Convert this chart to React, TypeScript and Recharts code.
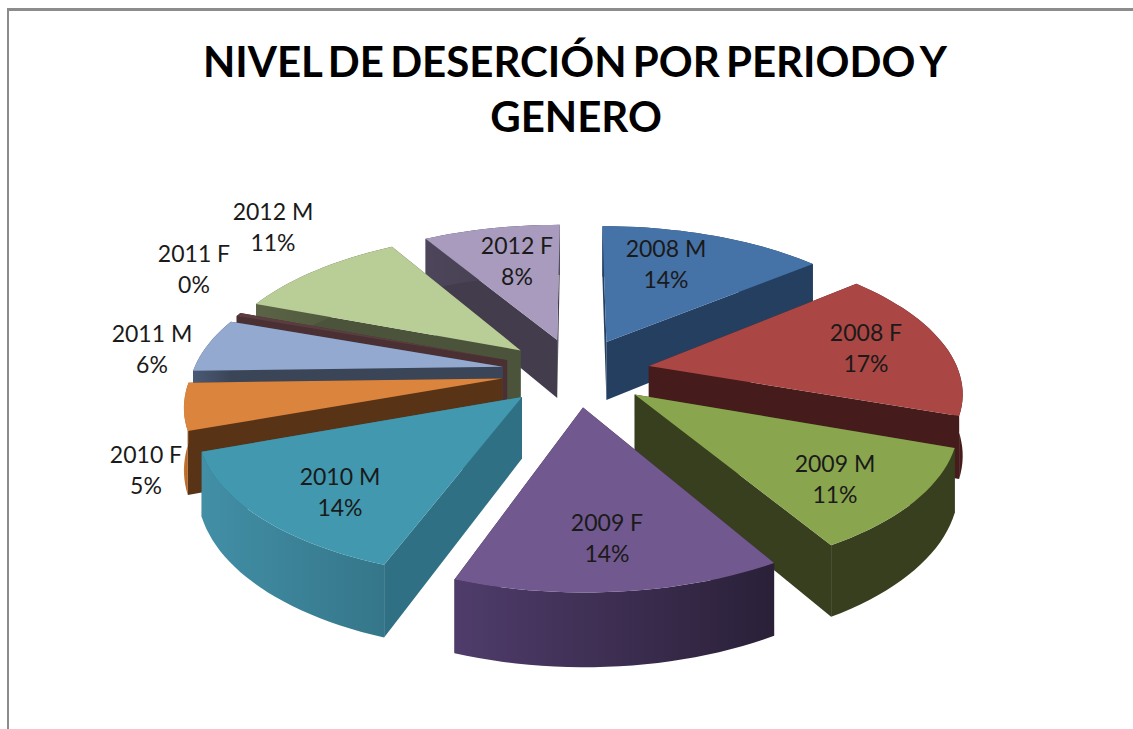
import { PieChart, Pie } from 'recharts'

const categories = ['2008 M', '2008 F', '2009 M', '2009 F', '2010 M', '2010 F', '2011 M', '2011 F', '2012 M', '2012 F']
// 2011 F is a sliver in the picture that still rounds to 0%
const values = [13.9, 16.55, 11.1, 13.95, 13.9, 5.1, 5.9, 0.4, 10.7, 8.45]

const topColors = ['#4572a7', '#aa4643', '#89a54e', '#71588f', '#4198af', '#db843d', '#93a9cf', '#5a3d40', '#b9cd96', '#a99bbd']
const faceColors = ['#243f60', '#451b1b', '#373f1e', '#2d2340', '#2f7084', '#593316', '#3b4558', '#4a2f33', '#4b533a', '#423c4d']
const rimLeft = ['#243f60', '#5a2422', '#373f1e', '#4f3c6b', '#428fa6', '#c9772f', '#4a5a75', '#4a2f33', '#5a6345', '#4d465a']
const rimRight = ['#243f60', '#451b1b', '#373f1e', '#2a2038', '#35768a', '#a85f25', '#3b4558', '#4a2f33', '#4b533a', '#423c4d']

// back slices first, front slices last
const drawOrder = [0, 1, 2, 9, 8, 7, 6, 5, 4, 3]

const labelX = [666, 866, 835, 607, 340, 146, 152, 194, 273, 517]
const labelY = [257, 341, 472, 531, 485, 463, 342, 262, 220, 254]

const data = categories.map((name, i) => ({ name, value: values[i], fill: topColors[i] }))

const CX = 576
const CY = 372
const RADIUS = 310
const TILT = 0.461
const PERSPECTIVE = 0.159
const EXPLODE = 0.24
const DEPTH = 60
const RAD = Math.PI / 180

function Slice3D(props: any) {
  const { cx, cy, outerRadius: R, startAngle, endAngle, index } = props
  const mid = ((startAngle + endAngle) / 2) * RAD
  const ox = Math.cos(mid) * EXPLODE
  const oz = -Math.sin(mid) * EXPLODE

  // unit disc point -> screen, with the near side drawn larger
  const project = (u: number, v: number, h: number) => {
    const s = 1 / (1 - PERSPECTIVE * v)
    return [cx + u * R * s, cy + (v * TILT * R + h) * s]
  }
  const rim = (deg: number, h: number) =>
    project(ox + Math.cos(deg * RAD), oz - Math.sin(deg * RAD), h)
  const tip = (h: number) => project(ox, oz, h)
  const path = (pts: number[][]) =>
    'M' + pts.map(p => `${p[0].toFixed(1)},${p[1].toFixed(1)}`).join('L') + 'Z'

  const arc: number[] = []
  const steps = Math.max(2, Math.ceil(Math.abs(startAngle - endAngle) / 2))
  for (let i = 0; i <= steps; i++) arc.push(startAngle + ((endAngle - startAngle) * i) / steps)

  const gradId = `rim-${index}`
  return (
    <g>
      <defs>
        <linearGradient id={gradId} x1="0" y1="0" x2="1" y2="0">
          <stop offset="0%" stopColor={rimLeft[index]} />
          <stop offset="100%" stopColor={rimRight[index]} />
        </linearGradient>
      </defs>
      <path d={path([tip(0), rim(startAngle, 0), rim(startAngle, DEPTH), tip(DEPTH)])} fill={faceColors[index]} />
      <path d={path([tip(0), rim(endAngle, 0), rim(endAngle, DEPTH), tip(DEPTH)])} fill={faceColors[index]} />
      <path
        d={path([...arc.map(a => rim(a, 0)), ...arc.slice().reverse().map(a => rim(a, DEPTH))])}
        fill={`url(#${gradId})`}
      />
      <path d={path([tip(0), ...arc.map(a => rim(a, 0))])} fill={topColors[index]} />
    </g>
  )
}

function renderLabel(props: any) {
  const { index, name, percent } = props
  return (
    <text textAnchor="middle" fontFamily="Lato" fontSize={23} fill="#1a1a1a">
      <tspan x={labelX[index]} y={labelY[index]}>{name}</tspan>
      <tspan x={labelX[index]} y={labelY[index] + 31}>{`${Math.round(percent * 100)}%`}</tspan>
    </text>
  )
}

export default function App() {
  return (
    <div style={{ position: 'absolute', left: 0, top: 0, width: 1133, height: 729, overflow: 'hidden', background: '#fff' }}>
      <div style={{ position: 'absolute', left: 7, top: 8, width: 1126, height: 721, borderLeft: '2px solid #8c8c8c', borderTop: '3px solid #8c8c8c' }} />
      <div style={{ position: 'absolute', left: 0, top: 0 }}>
        <PieChart width={1133} height={729} margin={{ top: 0, right: 0, bottom: 0, left: 0 }}>
          <text x={575} y={77} textAnchor="middle" fontFamily="Lato" fontWeight={700} fontSize={42} wordSpacing={-4} fill="#000">
            NIVEL DE DESERCIÓN POR PERIODO Y
          </text>
          <text x={576} y={132} textAnchor="middle" fontFamily="Lato" fontWeight={700} fontSize={42} fill="#000">
            GENERO
          </text>
          {drawOrder.map((slice, n) => (
            <Pie
              key={slice}
              data={data}
              dataKey="value"
              nameKey="name"
              cx={CX}
              cy={CY}
              innerRadius={0}
              outerRadius={RADIUS}
              startAngle={90}
              endAngle={-270}
              stroke="none"
              isAnimationActive={false}
              labelLine={false}
              label={n === drawOrder.length - 1 ? renderLabel : false}
              shape={(p: any) => (p.index === slice ? <Slice3D {...p} /> : <g />)}
            />
          ))}
        </PieChart>
      </div>
    </div>
  )
}
